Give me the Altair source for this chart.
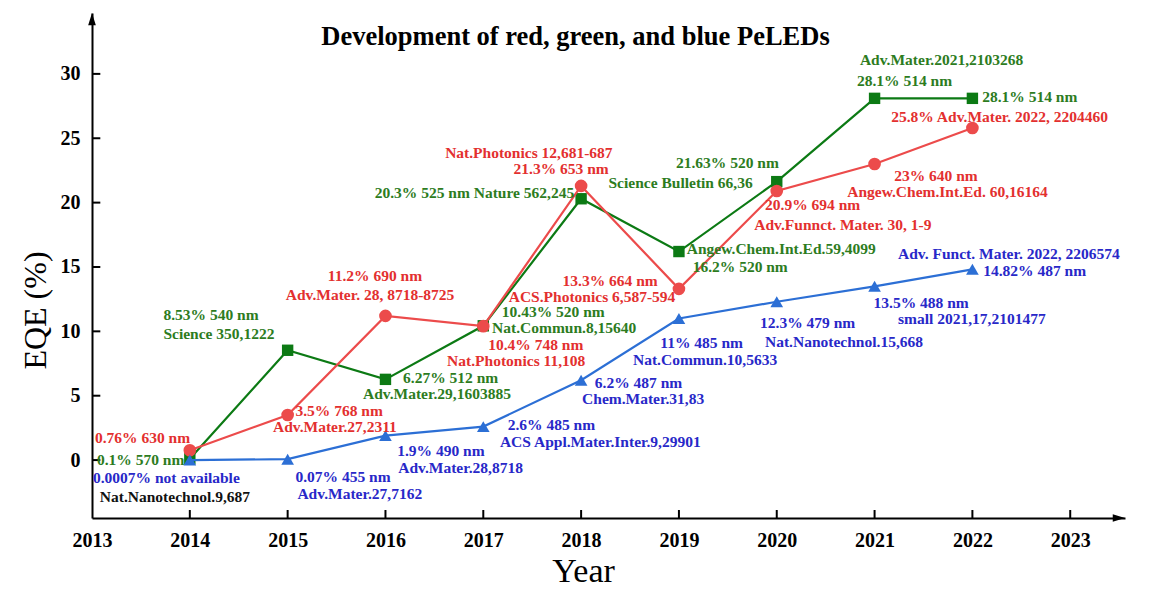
import altair as alt
import pandas as pd

# ---------------- data ----------------
years = [2014, 2015, 2016, 2017, 2018, 2019, 2020, 2021, 2022]
red_eqe = [0.76, 3.5, 11.2, 10.4, 21.3, 13.3, 20.9, 23.0, 25.8]
green_eqe = [0.1, 8.53, 6.27, 10.43, 20.3, 16.2, 21.63, 28.1, 28.1]
blue_eqe = [0.0007, 0.07, 1.9, 2.6, 6.2, 11.0, 12.3, 13.5, 14.82]

tick_years = [2013, 2014, 2015, 2016, 2017, 2018, 2019, 2020, 2021, 2022, 2023]
tick_eqe = [0, 5, 10, 15, 20, 25, 30]

# annotation labels (text, group, left x in years, centre y in EQE units)
label_text = [
    # red
    "0.76% 630 nm", "3.5% 768 nm", "Adv.Mater.27,2311", "11.2% 690 nm",
    "Adv.Mater. 28, 8718-8725", "10.4% 748 nm", "Nat.Photonics 11,108",
    "Nat.Photonics 12,681-687", "21.3% 653 nm", "13.3% 664 nm",
    "ACS.Photonics 6,587-594", "20.9% 694 nm", "Adv.Funnct. Mater. 30, 1-9",
    "23% 640 nm", "Angew.Chem.Int.Ed. 60,16164", "25.8% Adv.Mater. 2022, 2204460",
    # green
    "0.1% 570 nm", "8.53% 540 nm", "Science 350,1222", "6.27% 512 nm",
    "Adv.Mater.29,1603885", "10.43% 520 nm", "Nat.Commun.8,15640",
    "20.3% 525 nm Nature 562,245", "21.63% 520 nm", "Science Bulletin 66,36",
    "Angew.Chem.Int.Ed.59,4099", "16.2% 520 nm", "Adv.Mater.2021,2103268",
    "28.1% 514 nm", "28.1% 514 nm",
    # blue
    "0.0007% not available", "0.07% 455 nm", "Adv.Mater.27,7162",
    "1.9% 490 nm", "Adv.Mater.28,8718", "2.6% 485 nm",
    "ACS Appl.Mater.Inter.9,29901", "6.2% 487 nm", "Chem.Mater.31,83",
    "11% 485 nm", "Nat.Commun.10,5633", "12.3% 479 nm",
    "Nat.Nanotechnol.15,668", "13.5% 488 nm", "small 2021,17,2101477",
    "Adv. Funct. Mater. 2022, 2206574", "14.82% 487 nm",
    # black
    "Nat.Nanotechnol.9,687",
]
label_group = ["red"] * 16 + ["green"] * 15 + ["blue"] * 17 + ["black"]
label_x = [
    2013.03, 2015.08, 2014.85, 2015.41, 2014.98, 2017.05, 2016.63, 2016.61,
    2017.31, 2017.81, 2017.26, 2019.88, 2019.77, 2021.20, 2020.72, 2021.17,
    2013.05, 2013.73, 2013.73, 2016.18, 2015.77, 2017.19, 2017.09, 2015.89,
    2018.97, 2018.28, 2019.08, 2019.14, 2020.85, 2020.82, 2022.10,
    2013.01, 2015.08, 2015.10, 2016.12, 2016.13, 2017.25, 2017.17, 2018.14,
    2018.01, 2018.81, 2018.53, 2019.83, 2019.88, 2020.99, 2021.24, 2021.24,
    2022.11,
    2013.08,
]
label_y = [
    1.71, 3.81, 2.56, 14.30, 12.82, 8.94, 7.69, 23.85,
    22.61, 13.91, 12.67, 19.81, 18.26, 22.07, 20.82, 26.65,
    0.0, 11.27, 9.79, 6.37, 5.13, 11.50, 10.26, 20.75,
    23.08, 21.52, 16.39, 15.00, 31.08, 29.45, 28.21,
    -1.40, -1.32, -2.64, 0.70, -0.62, 2.72, 1.40, 5.98,
    4.74, 9.09, 7.77, 10.64, 9.17, 12.20, 10.96, 16.01,
    14.69,
    -2.87,
]

# ---------------- styling ----------------
X_MIN, X_MAX = 2013, 2023.56
Y_MIN, Y_MAX = -4.5, 34.73
FONT = "Liberation Serif"
line_colors = {"red": "#ec4b4b", "green": "#0c7a14", "blue": "#2c6fd5"}
text_colors = {"red": "#e3302f", "green": "#2d7c1e", "blue": "#2828c8", "black": "#111111"}
shapes = {"red": "circle", "green": "square", "blue": "triangle-up"}
sizes = {"red": 160, "green": 130, "blue": 160}

x_scale = alt.Scale(domain=[X_MIN, X_MAX], nice=False, zero=False)
y_scale = alt.Scale(domain=[Y_MIN, Y_MAX], nice=False, zero=False)

x_axis = alt.Axis(
    values=tick_years, format="d", ticks=False, grid=False,
    domainColor="black", domainWidth=2,
    labelFont=FONT, labelFontWeight="bold", labelFontSize=20, labelColor="black",
    labelPadding=12, labelFlush=False,
    title="Year", titleFont=FONT, titleFontSize=34, titleFontWeight="normal",
    titleColor="black", titleX=491, titleY=63, titleBaseline="alphabetic",
    titleAlign="center",
)
y_axis = alt.Axis(
    values=tick_eqe, ticks=False, grid=False,
    domainColor="black", domainWidth=2,
    labelFont=FONT, labelFontWeight="bold", labelFontSize=20, labelColor="black",
    labelPadding=12,
    title="EQE (%)", titleFont=FONT, titleFontSize=32, titleFontWeight="normal",
    titleColor="black", titleAngle=270, titleX=-57, titleY=297,
    titleBaseline="middle", titleAlign="center",
)


def X(field):
    return alt.X(f"{field}:Q", scale=x_scale, axis=x_axis)


def Y(field):
    return alt.Y(f"{field}:Q", scale=y_scale, axis=y_axis)


layers = []

# inward ticks
xt = pd.DataFrame({"tx": tick_years[1:], "ty0": [Y_MIN] * 10, "ty1": [Y_MIN + 0.62] * 10})
layers.append(alt.Chart(xt).mark_rule(color="black", strokeWidth=2).encode(
    x=X("tx"), y=Y("ty0"), y2="ty1"))
yt = pd.DataFrame({"v": tick_eqe, "x0": [X_MIN] * 7, "x1": [X_MIN + 0.085] * 7})
layers.append(alt.Chart(yt).mark_rule(color="black", strokeWidth=2).encode(
    y=Y("v"), x=X("x0"), x2="x1"))

# arrow heads
up = pd.DataFrame({"ax": [X_MIN], "ay": [Y_MAX - 7 / 12.87]})
layers.append(alt.Chart(up).mark_point(
    shape="M0,-1L-0.55,0.75L0.55,0.75Z", filled=True, size=196, color="black", opacity=1
).encode(x=X("ax"), y=Y("ay")))
right = pd.DataFrame({"ax": [X_MAX - 7 / 97.8], "ay": [Y_MIN]})
layers.append(alt.Chart(right).mark_point(
    shape="M1,0L-0.75,-0.55L-0.75,0.55Z", filled=True, size=196, color="black", opacity=1
).encode(x=X("ax"), y=Y("ay")))

# series
series = {"green": green_eqe, "red": red_eqe, "blue": blue_eqe}
for name, vals in series.items():
    df = pd.DataFrame({"year": years, "eqe": vals})
    base = alt.Chart(df)
    layers.append(base.mark_line(color=line_colors[name], strokeWidth=2.2).encode(
        x=X("year"), y=Y("eqe")))
    layers.append(base.mark_point(
        shape=shapes[name], filled=True, size=sizes[name],
        color=line_colors[name], opacity=1
    ).encode(x=X("year"), y=Y("eqe")))

# annotations
lab = pd.DataFrame({
    "txt": label_text, "lx": label_x, "ly": label_y,
    "col": [text_colors[g] for g in label_group],
})
layers.append(alt.Chart(lab).mark_text(
    align="left", baseline="middle", font=FONT, fontWeight="bold", fontSize=15.5
).encode(x=X("lx"), y=Y("ly"), text="txt:N", color=alt.Color("col:N", scale=None)))

chart = alt.layer(*layers).properties(
    width=1033, height=505,
    autosize=alt.AutoSizeParams(type="none"),
    padding={"left": 84, "top": 5, "right": 20, "bottom": 71},
    background="white",
    title=alt.TitleParams(
        "Development of red, green, and blue PeLEDs",
        font=FONT, fontSize=26.5, fontWeight="bold", color="black",
        anchor="middle", dx=-33, dy=37, offset=0,
    ),
).configure_view(stroke=None)

chart.save("out.html", embed_options={"renderer": "svg", "actions": False})
